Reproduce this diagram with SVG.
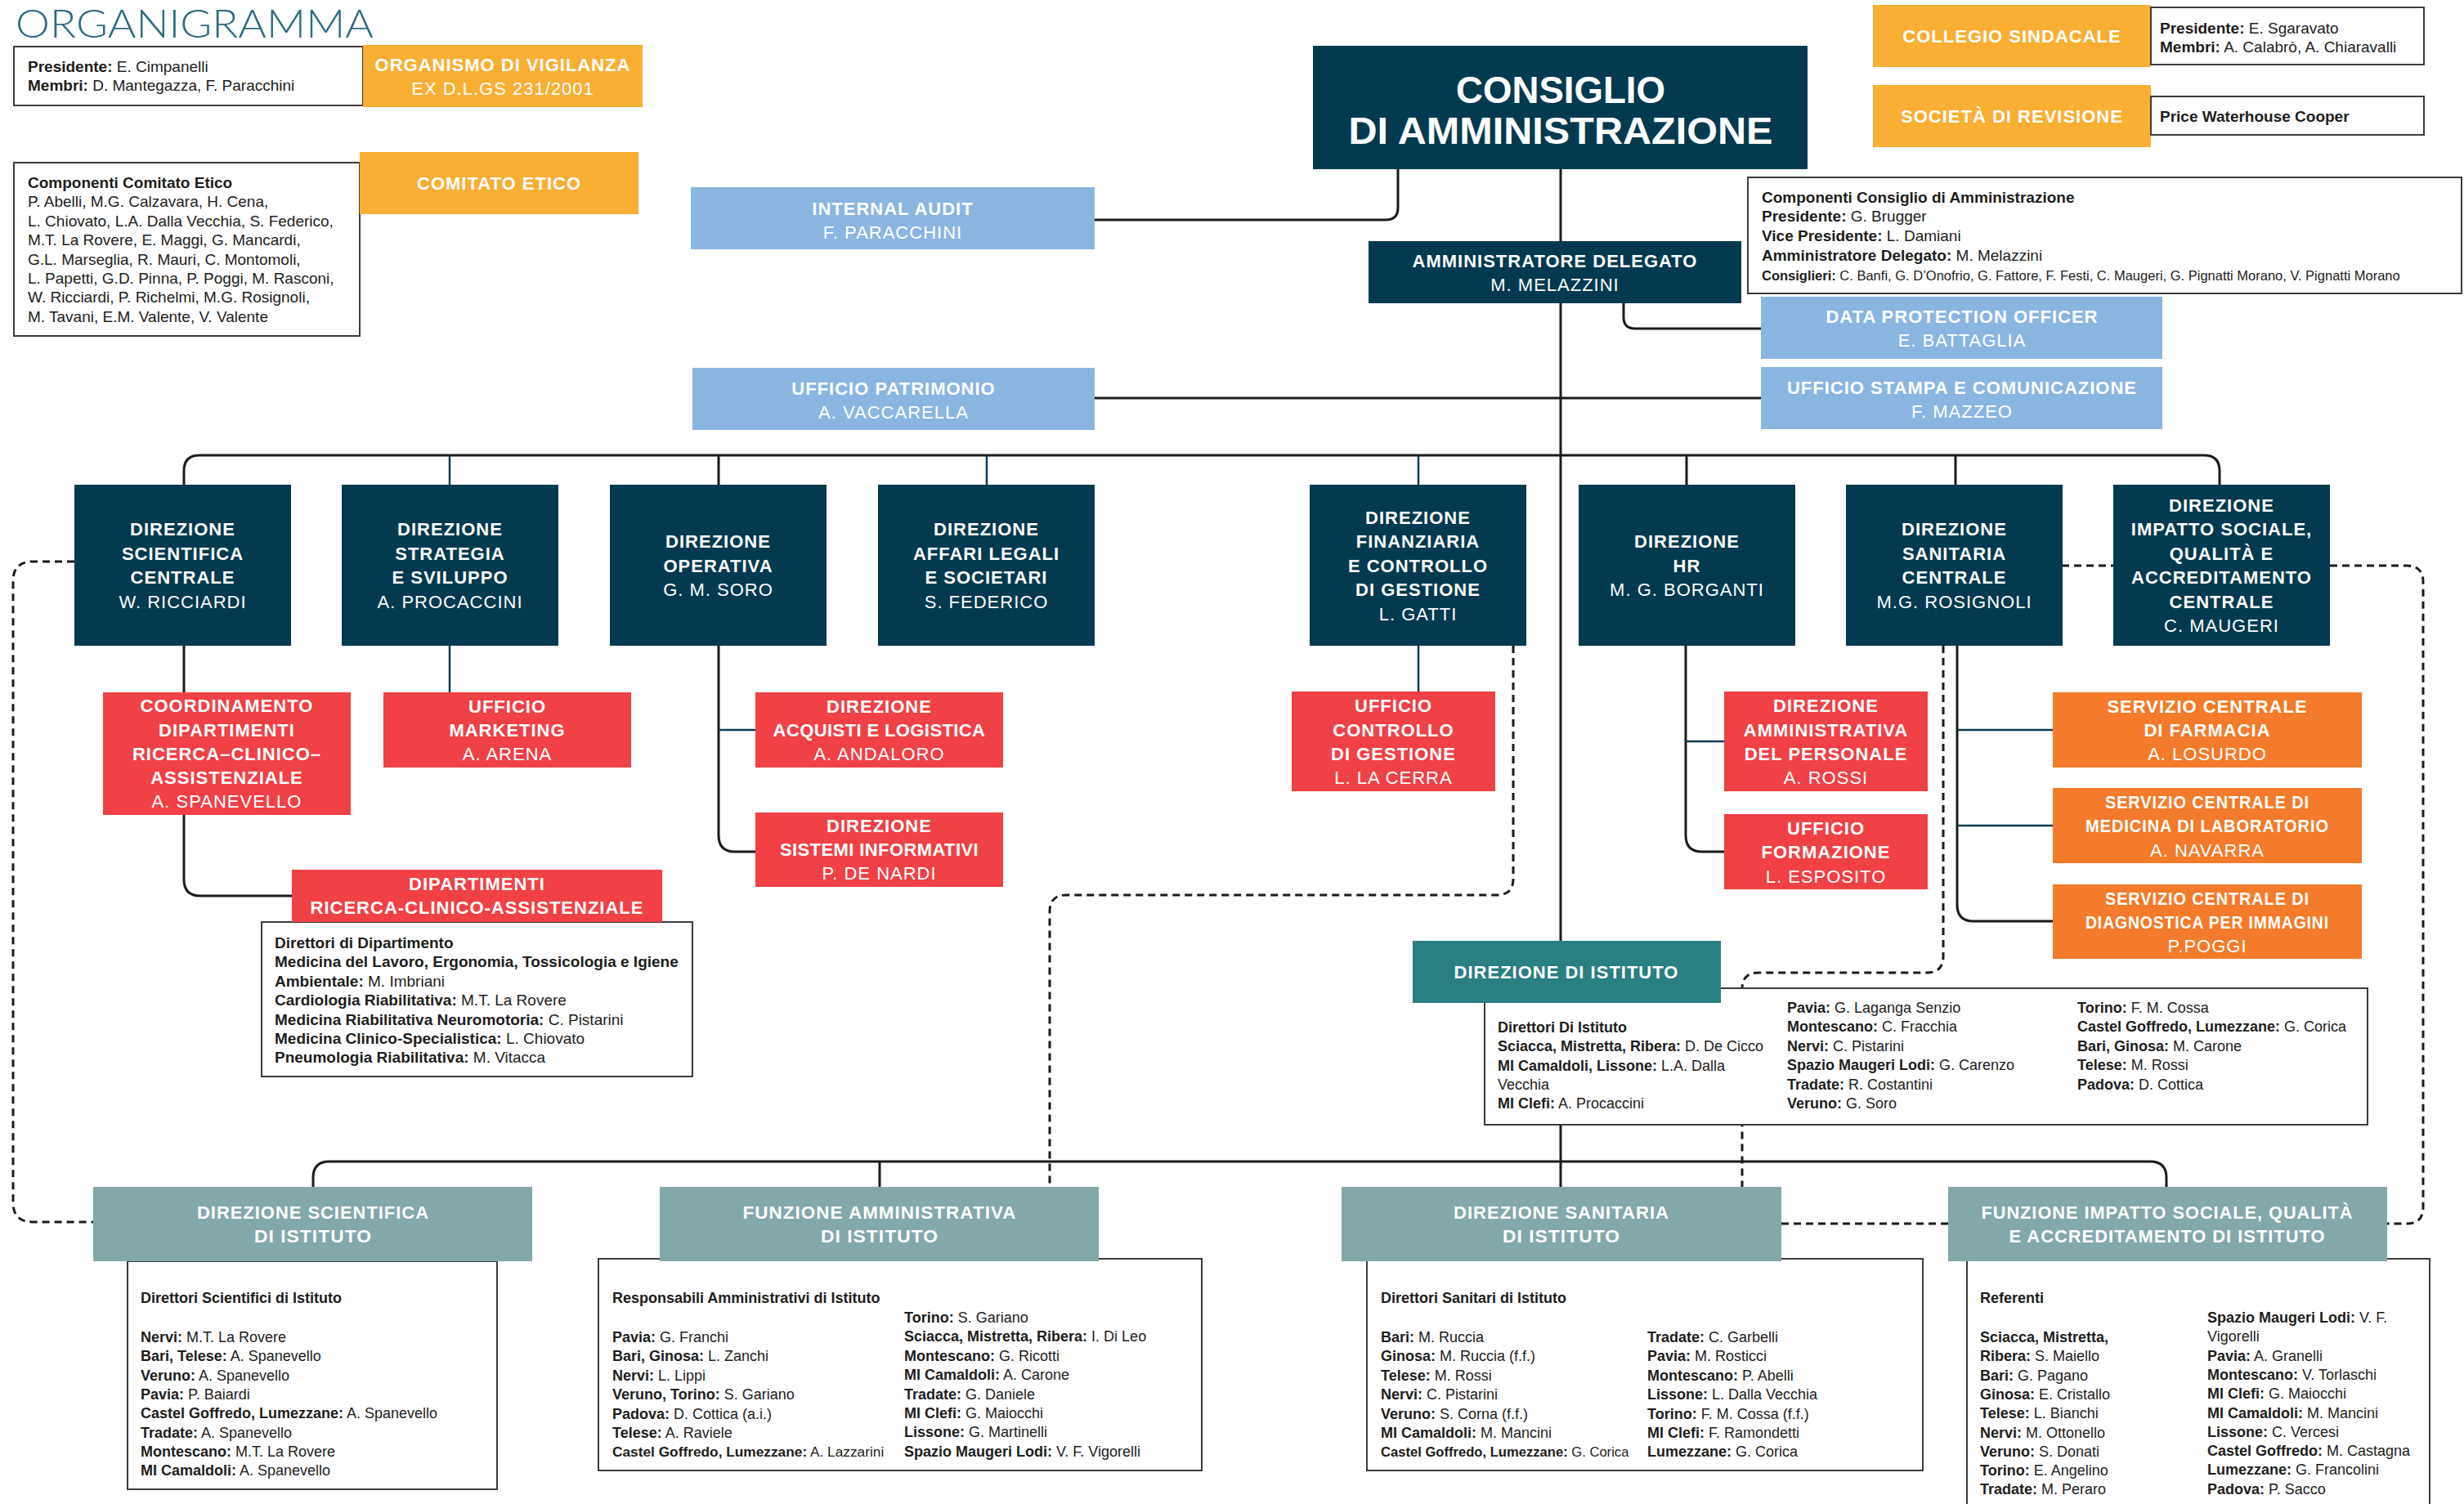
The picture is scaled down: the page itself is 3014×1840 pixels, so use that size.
<svg xmlns="http://www.w3.org/2000/svg" width="3014" height="1840" viewBox="0 0 3014 1840">
<defs>
<style>
text{font-family:"Liberation Sans",Arial,Helvetica,sans-serif}
.hd{font-size:22px;font-weight:700;fill:#fff;text-anchor:middle;letter-spacing:1px}
.nm{font-size:22px;font-weight:400;fill:#fff;text-anchor:middle;letter-spacing:1px}
.tx{font-size:19px;fill:#1d1d1b}
.sm{font-size:18px;fill:#1d1d1b}
.k{font-weight:700}
.box{fill:#fff;stroke:#3c3c3b;stroke-width:2}
.navy{fill:#033a4f}
.lb{fill:#8bb5e1}
.oy{fill:#f9ae34}
.red{fill:#ef4146}
.or{fill:#f37b2b}
.teal{fill:#2a7f81}
.gt{fill:#83a8aa}
.ln{fill:none;stroke:#1b1b1b;stroke-width:3}
.lnv{fill:none;stroke:#0b3d52;stroke-width:2.5}
.dl{fill:none;stroke:#1b1b1b;stroke-width:3;stroke-dasharray:9 6}
</style>
</defs>
<rect width="3014" height="1840" fill="#fff"/>
<text x="19" y="46" textLength="438" lengthAdjust="spacingAndGlyphs" style="font-family:Lato,Roboto,'Liberation Sans',sans-serif;font-weight:300;font-size:48px;fill:#2e6b80">ORGANIGRAMMA</text>

<g id="connectors">
<path class="ln" d="M1909 207 V1452"/>
<path class="ln" d="M1710 207 V254 Q1710 269 1695 269 H1339"/>
<path class="ln" d="M1986 371 V388 Q1986 402 2000 402 H2154"/>
<path class="ln" d="M1339 487 H2154"/>
<path class="ln" d="M225 593 V576 Q225 557 244 557 H2696 Q2715 557 2715 576 V593"/>
<path class="lnv" d="M550 557 V593"/>
<path class="ln" d="M879 557 V593"/>
<path class="lnv" d="M1207 557 V593"/>
<path class="lnv" d="M1735 557 V593"/>
<path class="ln" d="M2063 557 V593"/>
<path class="ln" d="M2392 557 V593"/>
<path class="ln" d="M225 790 V847"/>
<path class="ln" d="M225 997 V1076 Q225 1096 245 1096 H357"/>
<path class="lnv" d="M550 790 V847"/>
<path class="ln" d="M879 790 V1022 Q879 1042 899 1042 H924"/>
<path class="lnv" d="M879 893 H924"/>
<path class="lnv" d="M1735 790 V846"/>
<path class="ln" d="M2062 790 V1022 Q2062 1042 2082 1042 H2109"/>
<path class="lnv" d="M2062 907 H2109"/>
<path class="ln" d="M2394 790 V1107 Q2394 1127 2414 1127 H2511"/>
<path class="lnv" d="M2394 893 H2511"/>
<path class="lnv" d="M2394 1010 H2511"/>
<path class="ln" d="M383 1452 V1441 Q383 1421 403 1421 H2630 Q2650 1421 2650 1441 V1452"/>
<path class="ln" d="M1076 1421 V1452"/>
<path class="dl" d="M91 687 H40 Q16 687 16 711 V1471 Q16 1495 40 1495 H114"/>
<path class="dl" d="M1851 790 V1075 Q1851 1095 1831 1095 H1304 Q1284 1095 1284 1115 V1452"/>
<path class="dl" d="M2377 790 V1170 Q2377 1190 2357 1190 H2151 Q2131 1190 2131 1210 V1452"/>
<path class="dl" d="M2522 692 H2585"/>
<path class="dl" d="M2850 692 H2944 Q2964 692 2964 712 V1477 Q2964 1497 2944 1497 H2920"/>
<path class="dl" d="M2179 1497 H2383"/>
</g>

<g id="odv-membri">
<rect class="box" x="17" y="57" width="427" height="72"/>
<text class="tx" x="34" y="88"><tspan class="k">Presidente:</tspan> E. Cimpanelli</text>
<text class="tx" x="34" y="111"><tspan class="k">Membri:</tspan> D. Mantegazza, F. Paracchini</text>
</g>
<g id="organismo-vigilanza">
<rect class="oy" x="444" y="55" width="342" height="76"/>
<text class="hd" x="615" y="87">ORGANISMO DI VIGILANZA</text>
<text class="nm" x="615" y="116">EX D.L.GS 231/2001</text>
</g>

<g id="comitato-membri">
<rect class="box" x="17" y="199" width="423" height="212"/>
<text class="tx" x="34" y="230"><tspan class="k">Componenti Comitato Etico</tspan>
<tspan x="34" dy="23.4">P. Abelli, M.G. Calzavara, H. Cena,</tspan>
<tspan x="34" dy="23.4">L. Chiovato, L.A. Dalla Vecchia, S. Federico,</tspan>
<tspan x="34" dy="23.4">M.T. La Rovere, E. Maggi, G. Mancardi,</tspan>
<tspan x="34" dy="23.4">G.L. Marseglia, R. Mauri, C. Montomoli,</tspan>
<tspan x="34" dy="23.4">L. Papetti, G.D. Pinna, P. Poggi, M. Rasconi,</tspan>
<tspan x="34" dy="23.4">W. Ricciardi, P. Richelmi, M.G. Rosignoli,</tspan>
<tspan x="34" dy="23.4">M. Tavani, E.M. Valente, V. Valente</tspan></text>
</g>
<g id="comitato-etico">
<rect class="oy" x="440" y="186" width="341" height="76"/>
<text class="hd" x="610.5" y="232">COMITATO ETICO</text>
</g>

<g id="consiglio">
<rect class="navy" x="1606" y="56" width="605" height="151"/>
<text x="1909" y="126" textLength="256" lengthAdjust="spacingAndGlyphs" style="font-size:46px;font-weight:700;fill:#fff;text-anchor:middle">CONSIGLIO</text>
<text x="1909" y="176" textLength="519" lengthAdjust="spacingAndGlyphs" style="font-size:46px;font-weight:700;fill:#fff;text-anchor:middle">DI AMMINISTRAZIONE</text>
</g>

<g id="collegio-sindacale">
<rect class="oy" x="2291" y="6" width="340" height="76"/>
<text class="hd" x="2461" y="52">COLLEGIO SINDACALE</text>
<rect class="box" x="2631" y="9" width="334" height="70"/>
<text class="tx" x="2642" y="41"><tspan class="k">Presidente:</tspan> E. Sgaravato</text>
<text class="tx" x="2642" y="64"><tspan class="k">Membri:</tspan> A. Calabrò, A. Chiaravalli</text>
</g>
<g id="societa-revisione">
<rect class="oy" x="2291" y="104" width="340" height="76"/>
<text class="hd" x="2461" y="150">SOCIETÀ DI REVISIONE</text>
<rect class="box" x="2631" y="118" width="334" height="47"/>
<text class="tx k" x="2642" y="149">Price Waterhouse Cooper</text>
</g>

<g id="consiglio-membri">
<rect class="box" x="2138" y="217" width="873" height="142"/>
<text class="tx k" x="2155" y="248">Componenti Consiglio di Amministrazione</text>
<text class="tx" x="2155" y="271"><tspan class="k">Presidente:</tspan> G. Brugger</text>
<text class="tx" x="2155" y="295"><tspan class="k">Vice Presidente:</tspan> L. Damiani</text>
<text class="tx" x="2155" y="319"><tspan class="k">Amministratore Delegato:</tspan> M. Melazzini</text>
<text class="tx" x="2155" y="343" style="font-size:16.5px"><tspan class="k">Consiglieri:</tspan> C. Banfi, G. D’Onofrio, G. Fattore, F. Festi, C. Maugeri, G. Pignatti Morano, V. Pignatti Morano</text>
</g>

<g id="internal-audit">
<rect class="lb" x="845" y="229" width="494" height="76"/>
<text class="hd" x="1092" y="263">INTERNAL AUDIT</text>
<text class="nm" x="1092" y="292">F. PARACCHINI</text>
</g>
<g id="amministratore-delegato">
<rect class="navy" x="1674" y="295" width="456" height="76"/>
<text class="hd" x="1902" y="327">AMMINISTRATORE DELEGATO</text>
<text class="nm" x="1902" y="356">M. MELAZZINI</text>
</g>
<g id="dpo">
<rect class="lb" x="2154" y="363" width="491" height="76"/>
<text class="hd" x="2400" y="395">DATA PROTECTION OFFICER</text>
<text class="nm" x="2400" y="424">E. BATTAGLIA</text>
</g>
<g id="ufficio-patrimonio">
<rect class="lb" x="847" y="450" width="492" height="76"/>
<text class="hd" x="1093" y="483">UFFICIO PATRIMONIO</text>
<text class="nm" x="1093" y="512">A. VACCARELLA</text>
</g>
<g id="ufficio-stampa">
<rect class="lb" x="2154" y="449" width="491" height="76"/>
<text class="hd" x="2400" y="482">UFFICIO STAMPA E COMUNICAZIONE</text>
<text class="nm" x="2400" y="511">F. MAZZEO</text>
</g>

<g id="dir-scientifica-centrale">
<rect class="navy" x="91" y="593" width="265" height="197"/>
<text class="hd"><tspan x="223.5" y="655">DIREZIONE</tspan><tspan x="223.5" y="684.5">SCIENTIFICA</tspan><tspan x="223.5" y="714">CENTRALE</tspan><tspan class="nm" x="223.5" y="743.5">W. RICCIARDI</tspan></text>
</g>
<g id="dir-strategia">
<rect class="navy" x="418" y="593" width="265" height="197"/>
<text class="hd"><tspan x="550.5" y="655">DIREZIONE</tspan><tspan x="550.5" y="684.5">STRATEGIA</tspan><tspan x="550.5" y="714">E SVILUPPO</tspan><tspan class="nm" x="550.5" y="743.5">A. PROCACCINI</tspan></text>
</g>
<g id="dir-operativa">
<rect class="navy" x="746" y="593" width="265" height="197"/>
<text class="hd"><tspan x="878.5" y="670">DIREZIONE</tspan><tspan x="878.5" y="699.5">OPERATIVA</tspan><tspan class="nm" x="878.5" y="729">G. M. SORO</tspan></text>
</g>
<g id="dir-affari-legali">
<rect class="navy" x="1074" y="593" width="265" height="197"/>
<text class="hd"><tspan x="1206.5" y="655">DIREZIONE</tspan><tspan x="1206.5" y="684.5">AFFARI LEGALI</tspan><tspan x="1206.5" y="714">E SOCIETARI</tspan><tspan class="nm" x="1206.5" y="743.5">S. FEDERICO</tspan></text>
</g>
<g id="dir-finanziaria">
<rect class="navy" x="1602" y="593" width="265" height="197"/>
<text class="hd"><tspan x="1734.5" y="640.5">DIREZIONE</tspan><tspan x="1734.5" y="670">FINANZIARIA</tspan><tspan x="1734.5" y="699.5">E CONTROLLO</tspan><tspan x="1734.5" y="729">DI GESTIONE</tspan><tspan class="nm" x="1734.5" y="758.5">L. GATTI</tspan></text>
</g>
<g id="dir-hr">
<rect class="navy" x="1931" y="593" width="265" height="197"/>
<text class="hd"><tspan x="2063.5" y="670">DIREZIONE</tspan><tspan x="2063.5" y="699.5">HR</tspan><tspan class="nm" x="2063.5" y="729">M. G. BORGANTI</tspan></text>
</g>
<g id="dir-sanitaria-centrale">
<rect class="navy" x="2258" y="593" width="265" height="197"/>
<text class="hd"><tspan x="2390.5" y="655">DIREZIONE</tspan><tspan x="2390.5" y="684.5">SANITARIA</tspan><tspan x="2390.5" y="714">CENTRALE</tspan><tspan class="nm" x="2390.5" y="743.5">M.G. ROSIGNOLI</tspan></text>
</g>
<g id="dir-impatto-sociale">
<rect class="navy" x="2585" y="593" width="265" height="197"/>
<text class="hd"><tspan x="2717.5" y="625.5">DIREZIONE</tspan><tspan x="2717.5" y="655">IMPATTO SOCIALE,</tspan><tspan x="2717.5" y="684.5">QUALITÀ E</tspan><tspan x="2717.5" y="714">ACCREDITAMENTO</tspan><tspan x="2717.5" y="743.5">CENTRALE</tspan><tspan class="nm" x="2717.5" y="773">C. MAUGERI</tspan></text>
</g>

<g id="coordinamento-dipartimenti">
<rect class="red" x="126" y="847" width="303" height="150"/>
<text class="hd"><tspan x="277.5" y="871">COORDINAMENTO</tspan><tspan x="277.5" y="900.5">DIPARTIMENTI</tspan><tspan x="277.5" y="930">RICERCA–CLINICO–</tspan><tspan x="277.5" y="959">ASSISTENZIALE</tspan><tspan class="nm" x="277.5" y="988">A. SPANEVELLO</tspan></text>
</g>
<g id="ufficio-marketing">
<rect class="red" x="469" y="847" width="303" height="92"/>
<text class="hd"><tspan x="620.5" y="872">UFFICIO</tspan><tspan x="620.5" y="901">MARKETING</tspan><tspan class="nm" x="620.5" y="930">A. ARENA</tspan></text>
</g>
<g id="dir-acquisti">
<rect class="red" x="924" y="847" width="303" height="92"/>
<text class="hd"><tspan x="1075.5" y="872">DIREZIONE</tspan><tspan x="1075.5" y="901" style="letter-spacing:0.4px">ACQUISTI E LOGISTICA</tspan><tspan class="nm" x="1075.5" y="930">A. ANDALORO</tspan></text>
</g>
<g id="dir-sistemi-informativi">
<rect class="red" x="924" y="994" width="303" height="91"/>
<text class="hd"><tspan x="1075.5" y="1018">DIREZIONE</tspan><tspan x="1075.5" y="1047" style="letter-spacing:0.4px">SISTEMI INFORMATIVI</tspan><tspan class="nm" x="1075.5" y="1076">P. DE NARDI</tspan></text>
</g>
<g id="dipartimenti-rca">
<rect class="box" x="320" y="1128" width="527" height="189"/>
<rect class="red" x="357" y="1064" width="453" height="64"/>
<text class="hd"><tspan x="583.5" y="1089">DIPARTIMENTI</tspan><tspan x="583.5" y="1118">RICERCA-CLINICO-ASSISTENZIALE</tspan></text>
<text class="tx" x="336" y="1160"><tspan class="k">Direttori di Dipartimento</tspan>
<tspan class="k" x="336" dy="23.4">Medicina del Lavoro, Ergonomia, Tossicologia e Igiene</tspan>
<tspan class="k" x="336" dy="23.4">Ambientale:</tspan> M. Imbriani
<tspan class="k" x="336" dy="23.4">Cardiologia Riabilitativa:</tspan> M.T. La Rovere
<tspan class="k" x="336" dy="23.4">Medicina Riabilitativa Neuromotoria:</tspan> C. Pistarini
<tspan class="k" x="336" dy="23.4">Medicina Clinico-Specialistica:</tspan> L. Chiovato
<tspan class="k" x="336" dy="23.4">Pneumologia Riabilitativa:</tspan> M. Vitacca</text>
</g>
<g id="ufficio-controllo-gestione">
<rect class="red" x="1580" y="846" width="249" height="122"/>
<text class="hd"><tspan x="1704.5" y="871">UFFICIO</tspan><tspan x="1704.5" y="900.5">CONTROLLO</tspan><tspan x="1704.5" y="929.5">DI GESTIONE</tspan><tspan class="nm" x="1704.5" y="959">L. LA CERRA</tspan></text>
</g>
<g id="dir-amministrativa-personale">
<rect class="red" x="2109" y="846" width="249" height="122"/>
<text class="hd"><tspan x="2233.5" y="871">DIREZIONE</tspan><tspan x="2233.5" y="900.5">AMMINISTRATIVA</tspan><tspan x="2233.5" y="929.5">DEL PERSONALE</tspan><tspan class="nm" x="2233.5" y="959">A. ROSSI</tspan></text>
</g>
<g id="ufficio-formazione">
<rect class="red" x="2109" y="996" width="249" height="92"/>
<text class="hd"><tspan x="2233.5" y="1021">UFFICIO</tspan><tspan x="2233.5" y="1050">FORMAZIONE</tspan><tspan class="nm" x="2233.5" y="1080">L. ESPOSITO</tspan></text>
</g>
<g id="servizio-farmacia">
<rect class="or" x="2511" y="847" width="378" height="92"/>
<text class="hd"><tspan x="2700" y="872">SERVIZIO CENTRALE</tspan><tspan x="2700" y="901">DI FARMACIA</tspan><tspan class="nm" x="2700" y="930">A. LOSURDO</tspan></text>
</g>
<g id="servizio-laboratorio">
<rect class="or" x="2511" y="964" width="378" height="92"/>
<text class="hd" x="2700" y="989" textLength="250" lengthAdjust="spacingAndGlyphs">SERVIZIO CENTRALE DI</text>
<text class="hd" x="2700" y="1018" textLength="298" lengthAdjust="spacingAndGlyphs">MEDICINA DI LABORATORIO</text>
<text class="nm" x="2700" y="1048">A. NAVARRA</text>
</g>
<g id="servizio-diagnostica">
<rect class="or" x="2511" y="1082" width="378" height="91"/>
<text class="hd" x="2700" y="1107" textLength="250" lengthAdjust="spacingAndGlyphs">SERVIZIO CENTRALE DI</text>
<text class="hd" x="2700" y="1136" textLength="298" lengthAdjust="spacingAndGlyphs">DIAGNOSTICA PER IMMAGINI</text>
<text class="nm" x="2700" y="1165">P.POGGI</text>
</g>

<g id="direzione-istituto">
<rect class="box" x="1816" y="1209" width="1080" height="167"/>
<rect class="teal" x="1728" y="1151" width="377" height="76"/>
<text class="hd" x="1916" y="1197">DIREZIONE DI ISTITUTO</text>
<text class="sm" x="1832" y="1263"><tspan class="k">Direttori Di Istituto</tspan>
<tspan class="k" x="1832" dy="23.3">Sciacca, Mistretta, Ribera:</tspan> D. De Cicco
<tspan class="k" x="1832" dy="23.3">MI Camaldoli, Lissone:</tspan> L.A. Dalla
<tspan x="1832" dy="23.3">Vecchia</tspan>
<tspan class="k" x="1832" dy="23.3">MI Clefi:</tspan> A. Procaccini</text>
<text class="sm" x="2186" y="1239"><tspan class="k">Pavia:</tspan> G. Laganga Senzio
<tspan class="k" x="2186" dy="23.4">Montescano:</tspan> C. Fracchia
<tspan class="k" x="2186" dy="23.4">Nervi:</tspan> C. Pistarini
<tspan class="k" x="2186" dy="23.4">Spazio Maugeri Lodi:</tspan> G. Carenzo
<tspan class="k" x="2186" dy="23.4">Tradate:</tspan> R. Costantini
<tspan class="k" x="2186" dy="23.4">Veruno:</tspan> G. Soro</text>
<text class="sm" x="2541" y="1239"><tspan class="k">Torino:</tspan> F. M. Cossa
<tspan class="k" x="2541" dy="23.4">Castel Goffredo, Lumezzane:</tspan> G. Corica
<tspan class="k" x="2541" dy="23.4">Bari, Ginosa:</tspan> M. Carone
<tspan class="k" x="2541" dy="23.4">Telese:</tspan> M. Rossi
<tspan class="k" x="2541" dy="23.4">Padova:</tspan> D. Cottica</text>
</g>

<g id="dir-scientifica-istituto">
<rect class="box" x="156" y="1543" width="452" height="279"/>
<rect class="gt" x="114" y="1452" width="537" height="91"/>
<text class="hd" x="383" y="1491" textLength="284" lengthAdjust="spacingAndGlyphs">DIREZIONE SCIENTIFICA</text>
<text class="hd" x="383" y="1520" textLength="144" lengthAdjust="spacingAndGlyphs">DI ISTITUTO</text>
<text class="sm" x="172" y="1594"><tspan class="k">Direttori Scientifici di Istituto</tspan>
<tspan class="k" x="172" dy="48">Nervi:</tspan> M.T. La Rovere
<tspan class="k" x="172" dy="23.3">Bari, Telese:</tspan> A. Spanevello
<tspan class="k" x="172" dy="23.3">Veruno:</tspan> A. Spanevello
<tspan class="k" x="172" dy="23.3">Pavia:</tspan> P. Baiardi
<tspan class="k" x="172" dy="23.3">Castel Goffredo, Lumezzane:</tspan> A. Spanevello
<tspan class="k" x="172" dy="23.3">Tradate:</tspan> A. Spanevello
<tspan class="k" x="172" dy="23.3">Montescano:</tspan> M.T. La Rovere
<tspan class="k" x="172" dy="23.3">MI Camaldoli:</tspan> A. Spanevello</text>
</g>

<g id="funzione-amministrativa">
<rect class="box" x="732" y="1540" width="738" height="259"/>
<rect class="gt" x="807" y="1452" width="537" height="91"/>
<text class="hd" x="1076" y="1491" textLength="335" lengthAdjust="spacingAndGlyphs">FUNZIONE AMMINISTRATIVA</text>
<text class="hd" x="1076" y="1520" textLength="144" lengthAdjust="spacingAndGlyphs">DI ISTITUTO</text>
<text class="sm k" x="749" y="1594">Responsabili Amministrativi di Istituto</text>
<text class="sm" x="749" y="1642"><tspan class="k">Pavia:</tspan> G. Franchi
<tspan class="k" x="749" dy="23.4">Bari, Ginosa:</tspan> L. Zanchi
<tspan class="k" x="749" dy="23.4">Nervi:</tspan> L. Lippi
<tspan class="k" x="749" dy="23.4">Veruno, Torino:</tspan> S. Gariano
<tspan class="k" x="749" dy="23.4">Padova:</tspan> D. Cottica (a.i.)
<tspan class="k" x="749" dy="23.4">Telese:</tspan> A. Raviele</text>
<text class="sm" x="749" y="1782" style="font-size:17.3px"><tspan class="k">Castel Goffredo, Lumezzane:</tspan> A. Lazzarini</text>
<text class="sm" x="1106" y="1618"><tspan class="k">Torino:</tspan> S. Gariano
<tspan class="k" x="1106" dy="23.4">Sciacca, Mistretta, Ribera:</tspan> I. Di Leo
<tspan class="k" x="1106" dy="23.4">Montescano:</tspan> G. Ricotti
<tspan class="k" x="1106" dy="23.4">MI Camaldoli:</tspan> A. Carone
<tspan class="k" x="1106" dy="23.4">Tradate:</tspan> G. Daniele
<tspan class="k" x="1106" dy="23.4">MI Clefi:</tspan> G. Maiocchi
<tspan class="k" x="1106" dy="23.4">Lissone:</tspan> G. Martinelli
<tspan class="k" x="1106" dy="23.4">Spazio Maugeri Lodi:</tspan> V. F. Vigorelli</text>
</g>

<g id="dir-sanitaria-istituto">
<rect class="box" x="1672" y="1540" width="680" height="259"/>
<rect class="gt" x="1641" y="1452" width="538" height="91"/>
<text class="hd" x="1910" y="1491" textLength="264" lengthAdjust="spacingAndGlyphs">DIREZIONE SANITARIA</text>
<text class="hd" x="1910" y="1520" textLength="144" lengthAdjust="spacingAndGlyphs">DI ISTITUTO</text>
<text class="sm k" x="1689" y="1594">Direttori Sanitari di Istituto</text>
<text class="sm" x="1689" y="1642"><tspan class="k">Bari:</tspan> M. Ruccia
<tspan class="k" x="1689" dy="23.4">Ginosa:</tspan> M. Ruccia (f.f.)
<tspan class="k" x="1689" dy="23.4">Telese:</tspan> M. Rossi
<tspan class="k" x="1689" dy="23.4">Nervi:</tspan> C. Pistarini
<tspan class="k" x="1689" dy="23.4">Veruno:</tspan> S. Corna (f.f.)
<tspan class="k" x="1689" dy="23.4">MI Camaldoli:</tspan> M. Mancini</text>
<text class="sm" x="1689" y="1782" style="font-size:16.6px"><tspan class="k">Castel Goffredo, Lumezzane:</tspan> G. Corica</text>
<text class="sm" x="2015" y="1642"><tspan class="k">Tradate:</tspan> C. Garbelli
<tspan class="k" x="2015" dy="23.4">Pavia:</tspan> M. Rosticci
<tspan class="k" x="2015" dy="23.4">Montescano:</tspan> P. Abelli
<tspan class="k" x="2015" dy="23.4">Lissone:</tspan> L. Dalla Vecchia
<tspan class="k" x="2015" dy="23.4">Torino:</tspan> F. M. Cossa (f.f.)
<tspan class="k" x="2015" dy="23.4">MI Clefi:</tspan> F. Ramondetti
<tspan class="k" x="2015" dy="23.4">Lumezzane:</tspan> G. Corica</text>
</g>

<g id="funzione-impatto-sociale">
<rect class="box" x="2406" y="1540" width="566" height="320"/>
<rect class="gt" x="2383" y="1452" width="537" height="91"/>
<text class="hd" x="2651" y="1491" textLength="455" lengthAdjust="spacingAndGlyphs">FUNZIONE IMPATTO SOCIALE, QUALITÀ</text>
<text class="hd" x="2651" y="1520" textLength="387" lengthAdjust="spacingAndGlyphs">E ACCREDITAMENTO DI ISTITUTO</text>
<text class="sm k" x="2422" y="1594">Referenti</text>
<text class="sm" x="2422" y="1642"><tspan class="k">Sciacca, Mistretta,</tspan>
<tspan class="k" x="2422" dy="23.3">Ribera:</tspan> S. Maiello
<tspan class="k" x="2422" dy="23.3">Bari:</tspan> G. Pagano
<tspan class="k" x="2422" dy="23.3">Ginosa:</tspan> E. Cristallo
<tspan class="k" x="2422" dy="23.3">Telese:</tspan> L. Bianchi
<tspan class="k" x="2422" dy="23.3">Nervi:</tspan> M. Ottonello
<tspan class="k" x="2422" dy="23.3">Veruno:</tspan> S. Donati
<tspan class="k" x="2422" dy="23.3">Torino:</tspan> E. Angelino
<tspan class="k" x="2422" dy="23.3">Tradate:</tspan> M. Peraro</text>
<text class="sm" x="2700" y="1618"><tspan class="k">Spazio Maugeri Lodi:</tspan> V. F.
<tspan x="2700" dy="23.3">Vigorelli</tspan>
<tspan class="k" x="2700" dy="23.3">Pavia:</tspan> A. Granelli
<tspan class="k" x="2700" dy="23.3">Montescano:</tspan> V. Torlaschi
<tspan class="k" x="2700" dy="23.3">MI Clefi:</tspan> G. Maiocchi
<tspan class="k" x="2700" dy="23.3">MI Camaldoli:</tspan> M. Mancini
<tspan class="k" x="2700" dy="23.3">Lissone:</tspan> C. Vercesi
<tspan class="k" x="2700" dy="23.3">Castel Goffredo:</tspan> M. Castagna
<tspan class="k" x="2700" dy="23.3">Lumezzane:</tspan> G. Francolini
<tspan class="k" x="2700" dy="23.3">Padova:</tspan> P. Sacco</text>
</g>
</svg>
